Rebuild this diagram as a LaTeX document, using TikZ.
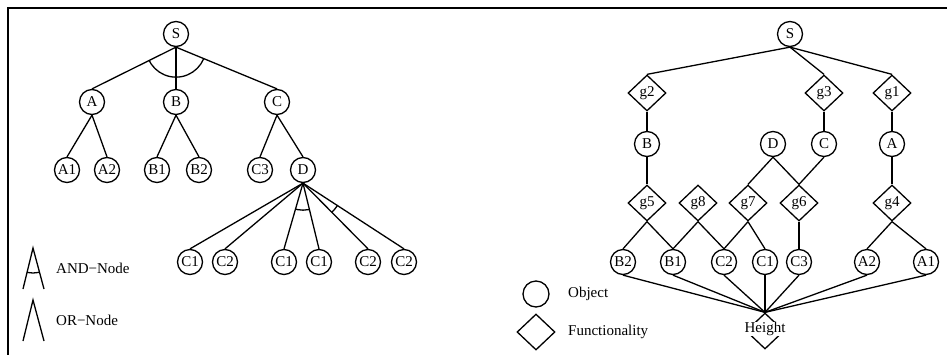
\documentclass[tikz,border=0pt]{standalone}
\usepackage{fontspec}
\setmainfont{Liberation Serif}
\usetikzlibrary{shapes.geometric,calc}
\tikzset{
  obj/.style={circle,draw,line width=1.3pt,minimum size=25pt,inner sep=0pt,font=\fontsize{15pt}{18pt}\selectfont},
  fun/.style={diamond,draw,line width=1.3pt,minimum width=38pt,minimum height=36pt,inner sep=0pt,font=\fontsize{15pt}{18pt}\selectfont},
  lbl/.style={inner sep=0pt,anchor=west,font=\fontsize{15pt}{18pt}\selectfont},
  edge/.style={line width=1.3pt},
}
\newcommand\myarc[4]{%
  \begin{scope}
    \clip (#1) -- ($(#1)!8!(#2)$) -- ($(#1)!8!(#3)$) -- cycle;
    \draw[edge] (#1) circle[radius=#4];
  \end{scope}}
\begin{document}
\begin{tikzpicture}[x=1pt,y=-1pt]
\useasboundingbox (0,0) rectangle (947,354);
\draw[line width=1.7pt] (8.3,360) -- (8.3,8.3) -- (960,8.3);

% ---------- left tree ----------
\node[obj] (lS) at (176,34) {S};
\node[obj] (lA) at (92,102) {A};
\node[obj] (lB) at (176,102) {B};
\node[obj] (lC) at (277,102) {C};
\node[obj] (lA1) at (67,170) {A1};
\node[obj] (lA2) at (107,170) {A2};
\node[obj] (lB1) at (157,170) {B1};
\node[obj] (lB2) at (199,170) {B2};
\node[obj] (lC3) at (260,170) {C3};
\node[obj] (lD) at (303,170) {D};
\node[obj] (d1) at (190,262) {C1};
\node[obj] (d2) at (225,262) {C2};
\node[obj] (d3) at (284,262) {C1};
\node[obj] (d4) at (319,262) {C1};
\node[obj] (d5) at (368,262) {C2};
\node[obj] (d6) at (404,262) {C2};

\foreach \c in {lA,lB,lC} \draw[edge] (lS.south) -- (\c.north);
\foreach \c in {lA1,lA2} \draw[edge] (lA.south) -- (\c.north);
\foreach \c in {lB1,lB2} \draw[edge] (lB.south) -- (\c.north);
\foreach \c in {lC3,lD} \draw[edge] (lC.south) -- (\c.north);
\foreach \c in {d1,d2,d3,d4,d5,d6} \draw[edge] (lD.south) -- (\c.north);
\myarc{lS.south}{lA.north}{lC.north}{30}
\myarc{lD.south}{d3.north}{d4.north}{27}
\myarc{lD.south}{d5.north}{d6.north}{41}

% ---------- left legend ----------
\coordinate (andT) at (33,248);
\coordinate (andL) at (23,289);
\coordinate (andR) at (44,289);
\draw[edge] (andL) -- (andT) -- (andR);
\myarc{andT}{andL}{andR}{25}
\node[lbl] (andtxt) at (56,268) {AND−Node};
\coordinate (orT) at (33,300);
\coordinate (orL) at (23,341);
\coordinate (orR) at (44,341);
\draw[edge] (orL) -- (orT) -- (orR);
\node[lbl] (ortxt) at (56,320) {OR−Node};

% ---------- right tree ----------
\node[obj] (rS) at (790,34) {S};
\node[fun] (g2) at (647,93) {g2};
\node[fun] (g3) at (824,93) {g3};
\node[fun] (g1) at (892,93) {g1};
\node[obj] (rB) at (647,144) {B};
\node[obj] (rD) at (773,144) {D};
\node[obj] (rC) at (824,144) {C};
\node[obj] (rA) at (892,144) {A};
\node[fun] (g5) at (647,203) {g5};
\node[fun] (g8) at (698,203) {g8};
\node[fun] (g7) at (748,203) {g7};
\node[fun] (g6) at (799,203) {g6};
\node[fun] (g4) at (892,203) {g4};
\node[obj] (rB2) at (623,262) {B2};
\node[obj] (rB1) at (673,262) {B1};
\node[obj] (rC2) at (724,262) {C2};
\node[obj] (rC1) at (765,262) {C1};
\node[obj] (rC3) at (799,262) {C3};
\node[obj] (rA2) at (867,262) {A2};
\node[obj] (rA1) at (926,262) {A1};
\node[fun] (H) at (765,331) {};
\node[inner sep=0pt,text height=10pt,text depth=3.5pt,anchor=base,fill=white,font=\fontsize{15pt}{18pt}\selectfont] (Htext) at (765,332) {Height};

\foreach \c in {g2,g3,g1} \draw[edge] (rS.south) -- (\c.north);
\draw[edge] (g2.south) -- (rB.north);
\draw[edge] (g3.south) -- (rC.north);
\draw[edge] (g1.south) -- (rA.north);
\draw[edge] (rB.south) -- (g5.north);
\draw[edge] (rD.south) -- (g7.north);
\draw[edge] (rD.south) -- (g6.north);
\draw[edge] (rC.south) -- (g6.north);
\draw[edge] (rA.south) -- (g4.north);
\draw[edge] (g5.south) -- (rB2.north);
\draw[edge] (g5.south) -- (rB1.north);
\draw[edge] (g8.south) -- (rB1.north);
\draw[edge] (g8.south) -- (rC2.north);
\draw[edge] (g7.south) -- (rC2.north);
\draw[edge] (g7.south) -- (rC1.north);
\draw[edge] (g6.south) -- (rC3.north);
\draw[edge] (g4.south) -- (rA2.north);
\draw[edge] (g4.south) -- (rA1.north);
\foreach \c in {rB2,rB1,rC2,rC1,rC3,rA2,rA1} \draw[edge] (\c.south) -- (H.north);

% ---------- right legend ----------
\node[obj,minimum size=26pt] (legO) at (536,294) {};
\node[lbl] (legOt) at (568,294) {Object};
\node[fun] (legF) at (536,332) {};
\node[lbl] (legFt) at (568,332) {Functionality};
\end{tikzpicture}
\end{document}
